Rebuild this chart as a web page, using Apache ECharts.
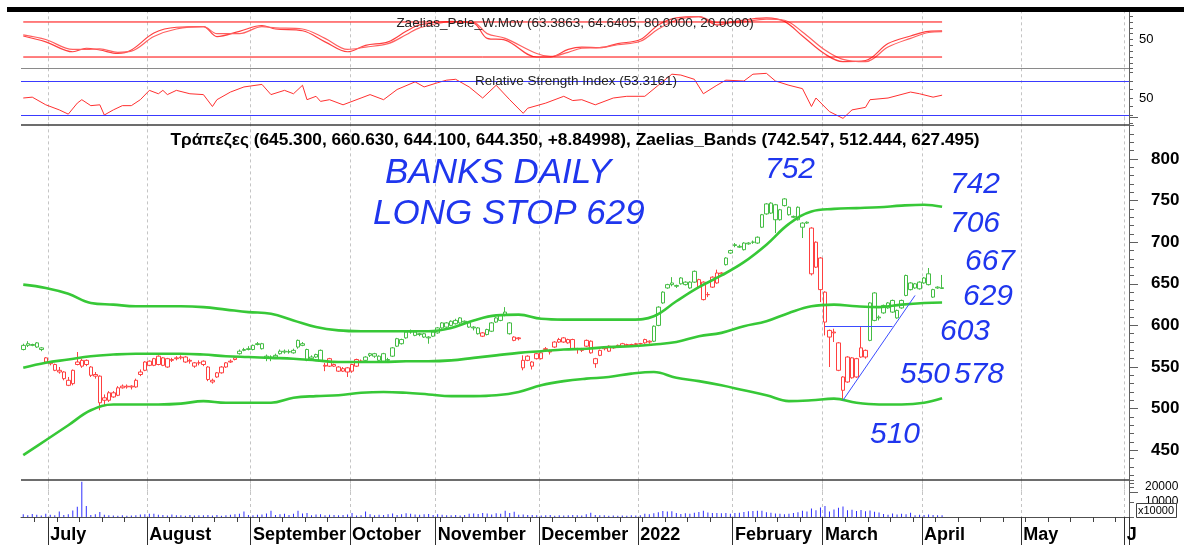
<!DOCTYPE html>
<html>
<head>
<meta charset="utf-8">
<script src="https://cdn.jsdelivr.net/npm/echarts@6/dist/echarts.min.js"></script>
<style>
  html, body { margin: 0; padding: 0; background: #fff; }
  #chart { width: 1184px; height: 560px; }
</style>
</head>
<body>
<div id="chart"></div>
<script>
// daily OHLC (one slot per session, last = 7 Apr 2022)
const open = [571,576,577,579,573,561,556,553,546,544,534,530,553,551,558,550,541,539,510,510,
  519,516,525,527,526,526,541,546,557,552,553,561,550,559,560,561,562,557,551,555,
  557,550,534,538,543,550,556,559,566,570,571,571,577,578,563,561,562,566,569,568,
  567,574,578,571,560,562,570,552,551,553,550,548,549,545,551,557,558,564,566,558,
  566,558,563,575,578,585,592,592,589,590,586,587,591,597,598,600,602,603,605,603,
  598,597,591,589,593,604,606,612,603,586,585,558,558,551,560,560,571,569,574,583,
  580,579,583,572,571,575,581,554,564,572,569,573,575,575,577,576,577,578,579,580,
  581,600,627,645,649,648,650,652,645,652,646,652,637,646,651,662,673,687,696,694,
  699,698,700,699,718,734,735,745,739,752,742,731,742,718,723,717,670,681,640,594,
  592,579,538,532,561,538,562,562,582,639,610,615,621,630,618,621,636,651,650,644,
  651,662,643,645,645.3];
const high = [578,581,578,580,574,562,557,554,550,545,538,547,568,560,559,551,544,540,517,521,
  521,527,529,529,528,536,547,557,558,561,564,562,561,561,563,564,563,560,556,558,
  558,551,536,544,551,556,559,562,571,573,575,577,580,579,565,564,566,571,571,571,
  572,583,580,572,564,566,571,555,561,554,551,550,550,554,560,559,563,567,567,564,
  567,561,574,585,584,593,595,593,591,591,587,593,598,604,604,606,608,610,606,604,
  599,598,592,596,604,610,613,622,604,587,586,564,564,557,567,568,574,571,581,585,
  586,584,584,573,573,583,582,561,571,574,576,575,577,579,578,578,579,579,584,582,
  600,623,641,650,658,649,658,653,653,666,656,653,640,659,667,664,682,691,699,697,
  700,700,702,707,734,747,748,746,740,753,743,732,743,724,725,718,701,682,641,595,
  596,580,539,563,562,561,598,571,628,640,612,625,628,631,619,631,661,652,651,653,
  658,669,644,647,660.63];
const low = [570,574,575,573,569,555,552,545,542,534,527,528,552,549,551,538,536,498,503,508,
  513,515,524,524,523,525,539,545,551,551,552,551,549,556,558,559,555,554,549,552,
  551,533,530,537,542,549,555,558,565,569,570,570,576,571,557,557,560,565,566,566,
  566,572,575,557,558,561,556,545,550,550,544,544,538,543,550,555,557,562,561,557,
  556,556,562,574,577,584,590,587,587,585,578,586,590,596,597,599,601,602,603,597,
  594,589,586,588,592,603,605,611,589,581,582,546,557,547,559,559,569,565,573,579,
  579,578,571,566,568,574,566,549,563,570,568,572,574,574,575,575,576,577,578,578,
  580,599,626,644,647,645,649,648,644,651,645,630,634,645,650,660,672,686,694,693,
  690,697,698,698,717,733,734,711,726,743,732,729,726,705,722,660,669,628,588,550,
  580,545,510,531,536,537,561,560,581,605,606,614,620,615,608,620,635,642,644,643,
  650,648,633,644,644.1];
const close = [576,578,576,574,571,556,554,546,544,536,528,546,556,558,553,540,539,507,513,519,
  514,525,527,526,527,534,544,556,552,560,563,552,560,558,561,562,556,558,555,555,
  553,535,532,543,550,555,557,561,569,571,572,576,578,572,561,562,564,569,568,568.5,
  570,582,576,558,562,565,557,551,560,551,545,545,544,553,559,557,562,566,563,563,
  557,559,573,584,583,592,593,588,590,586,585,592,597,603,603,605,606,609,604,598,
  597,590,587,595,603,609,612,616,590,582,584,549,563,556,566,567,572,568,580,580,
  585,583,572,571,570,582,567,560,570,573,575,574,576,578,576,577,578,578,583,581,
  599,622,640,649,651,647,657,649,652,665,655,631,637,658,663,663,681,690,697,695,
  691,699,700,706,733,746,747,727,727,744,733,730,727,723,724,662,700,643,604,586,
  591,546,522,562,537,560,573,570,627,606,609,624,627,616,609,630,660,643,645,652,
  657,649,634,646,644.35];
// G = green candle, R = red candle (colour used by the source chart)
const tone = ('GGGGG' +
  'RRRRRRRRRRRRRRRRRRRRRRRRRRRRRRRRRRRRRRRRRRR' +
  'GGGGGGGGGGGGGGGGGGG' + 'RRRRRRRRR' +
  'GGGGGGGGGGGGGGGGGGGGGGGGGG' + 'R' + 'GGGGGG' +
  'RRRRRRRRRRRRRRRRRRRRRRRRRRRRRRR' + 'GGGGGGGGGG' + 'RRRRRR' +
  'GGGGGGGGGGGGGGGGGGG' + 'RRRRRRRRRRRRR' + 'GGGGGGGGGGGGGGGGG').split('');

const volume = [1800,1200,2000,1500,1000,2200,1500,1200,3600,1400,1800,4400,6900,23500,7300,1400,1800,3300,1500,1200,
  1000,900,1100,800,1000,1200,1600,1900,2200,2100,1500,1300,1000,1600,1200,1100,900,1300,1000,1100,
  1200,1400,1000,1300,900,1200,1500,1800,2200,3600,1300,1100,1500,1700,2400,4200,1400,1800,2100,1300,
  2200,4200,2400,2600,1200,1700,1900,1100,1500,1300,1200,1400,1600,2600,1000,1200,3600,1900,1200,1500,
  1300,1800,2300,1400,1900,2500,2100,1600,1500,1900,2000,1300,1800,1500,1100,1200,1400,1000,1300,2200,
  2400,2000,2600,2300,1700,2500,2100,4200,2700,3500,1500,1700,1400,1300,1100,1000,1200,1300,900,1100,
  1000,1200,1400,1100,1000,1800,2900,1300,1200,1100,900,1000,800,1000,900,1100,1000,1200,2200,1800,
  2500,3100,4000,3600,3800,2700,2000,2500,2200,2800,3300,4200,3000,2600,2700,2500,2700,2200,2600,2900,
  3300,3800,4000,4200,4100,3200,2800,2300,2100,1900,2200,2600,3100,4200,3700,5600,4500,6300,7300,3600,
  5000,6200,7000,4500,4800,4000,4600,3800,4400,3500,3000,2000,1500,2400,1600,2100,1800,2900,1200,1500,
  1300,1700,1400,1100,1200];

// Zaelias bands, sampled every 5 sessions
const bandIdx = [0,5,10,15,20,25,30,35,40,45,50,55,60,65,70,75,80,85,90,95,100,105,110,115,120,125,130,135,140,145,150,155,160,165,170,175,180,185,190,195,200,204];
const upperBand = [649,645,638,627,625,623,623,623,622,619,616,614,606,598,594,593,593,593,593,597,606,612,613,608,607,607,607,607,611,629,646,660,676,697,722,737,740,741,742,744,745,742.547];
const midBand = [549,555,559,563,565,566,566,566,565,563,562,561,560,558,556,556,556,557,557,558,561,564,567,569,571,572,574,575,577,580,587,591,599,605,615,623,625,623,622,625,627,627.495];
const lowerBand = [444,462,480,498,505,505,505,506,509,507,507,507,513,515,516,519,520,519,517,515,515,516,520,528,533,536,538,542,544,537,533,528,522,516,509,510,512,507,505,505,507,512.444];

// Zaelias_Pele_W.Mov oscillator (two lines)
const oscIdx = [0,5,11,14,17,21,24,29,34,40,43,48,53,56,62,67,72,76,81,85,88,95,100,103,107,114,117,121,124,128,132,137,141,145,150,154,158,165,169,173,178,182,187,192,197,201,204];
const oscFast = [56,46,29,35,32,26,32,61,71,72,55,64,74,68,65,46,29,40,46,64,75,81,78,52,49,20,20,33,37,36,43,50,75,87,89,75,81,87,81,56,25,12,14,43,56,64,64.6405];
const oscSlow = [58,50,33,33,34,28,30,55,68,72,60,60,72,70,68,52,33,37,43,58,70,80,79,60,52,26,21,28,35,36,41,47,68,83,89,79,79,85,83,63,32,16,12,37,52,62,63.3863];
const oscLevels = [80, 20];

// Relative Strength Index
const rsiIdx = [0,2,5,8,10,12,13,15,17,18,20,22,24,26,28,30,31,32,34,37,40,42,43,46,49,53,55,58,60,62,63,65,66,68,71,75,77,80,83,87,89,92,94,96,99,102,105,108,111,112,116,120,122,124,127,131,134,138,141,144,146,149,151,154,156,160,162,165,167,170,173,175,176,179,182,184,187,188,192,197,199,202,204];
const rsi = [50,51,42,36,31,44,48,41,42,30,36,41,41,48,59,55,59,54,59,55,54,40,48,57,63,66,54,59,55,65,48,52,46,48,42,50,54,48,60,69,63,68,71,72,63,50,65,48,32,38,44,52,47,48,42,50,52,52,65,78,77,72,55,65,71,70,78,79,70,65,61,40,50,34,26,36,39,48,50,57,55,51,53.3161];
const rsiLevels = [70, 30];

// hand drawn support / trend lines: [startIdx, startVal, endIdx, endVal]
const supportLine = [178, 599, 193, 599];
const trendLine = [182, 510, 198, 636];

// x axis: session slots, month boundaries as drawn in the source
const slotCount = 246;
const monthTickIdx = [6, 28, 51, 73, 92, 115, 137, 158, 178, 200, 222, 245];
const monthTickLabel = ['July', 'August', 'September', 'October', 'November', 'December', '2022', 'February', 'March', 'April', 'May', 'J'];

const slots = Array.from({length: slotCount}, (_, i) => String(i));
const isMonthStart = i => monthTickIdx.indexOf(i) >= 0;
const isWeekTick = i => i % 5 === 3;

const pairs = (idx, vals) => idx.map((k, i) => [k, vals[i]]);
const lastIdx = open.length - 1;

const greenStyle = {color: '#ffffff', color0: '#008c00', borderColor: '#45bd45', borderColor0: '#008c00', borderWidth: 1};
const redStyle = {color: '#ffffff', color0: '#ff0000', borderColor: '#ff4040', borderColor0: '#ff0000', borderWidth: 1};
const candleData = open.map((o, i) => ({
  value: [o, close[i], low[i], high[i]],
  itemStyle: tone[i] === 'G' ? greenStyle : redStyle
}));

const FONT = 'Liberation Sans, Arial, sans-serif';
const AXIS_COLOR = '#606060';
const GRID_L = 21, GRID_R = 55;

function xAxisFor(gridIndex, extra) {
  return Object.assign({
    type: 'category', gridIndex, data: slots, boundaryGap: true,
    axisLine: {show: false}, axisTick: {show: false}, axisLabel: {show: false},
    splitLine: {show: true, interval: (i) => isMonthStart(i), lineStyle: {color: '#c4c4c4', type: [3, 3], width: 1}}
  }, extra || {});
}

const option = {
  animation: false,
  backgroundColor: '#ffffff',
  grid: [
    {left: GRID_L, right: GRID_R, top: 10.3, height: 58.4},
    {left: GRID_L, right: GRID_R, top: 68.25, height: 55.25},
    {left: GRID_L, right: GRID_R, top: 117.4, height: 374.4},
    {left: GRID_L, right: GRID_R, top: 480, height: 37},
    {left: GRID_L, right: GRID_R, top: 480, height: 37}
  ],
  xAxis: [
    xAxisFor(0),
    xAxisFor(1),
    xAxisFor(2),
    xAxisFor(3, {
      axisLine: {show: true, lineStyle: {color: '#505050', width: 1}},
      axisTick: {show: true, interval: (i) => isWeekTick(i), length: 5, lineStyle: {color: '#404040'}}
    }),
    xAxisFor(4, {
      splitLine: {show: false},
      axisTick: {show: true, interval: (i) => isMonthStart(i), length: 28, lineStyle: {color: '#303030', width: 1}},
      axisLabel: {
        show: true, interval: (i) => isMonthStart(i), align: 'left', margin: 9,
        formatter: (v) => monthTickLabel[monthTickIdx.indexOf(+v)],
        fontFamily: FONT, fontWeight: 'bold', fontSize: 18, color: '#000'
      }
    })
  ],
  yAxis: [
    {type: 'value', gridIndex: 0, position: 'right', min: 0, max: 100, interval: 10,
      axisLine: {show: true, lineStyle: {color: AXIS_COLOR}},
      axisTick: {show: true, length: 4, lineStyle: {color: AXIS_COLOR}},
      axisLabel: {formatter: v => v === 50 ? '50' : '', margin: 10, fontFamily: FONT, fontSize: 13, color: '#000'},
      splitLine: {show: false}},
    {type: 'value', gridIndex: 1, position: 'right', min: 20, max: 85, interval: 10,
      axisLine: {show: true, lineStyle: {color: AXIS_COLOR}},
      axisTick: {show: true, length: 4, lineStyle: {color: AXIS_COLOR}},
      axisLabel: {formatter: v => v === 50 ? '50' : '', margin: 10, fontFamily: FONT, fontSize: 13, color: '#000'},
      splitLine: {show: false}},
    {type: 'value', gridIndex: 2, position: 'right', min: 400, max: 850, interval: 50,
      axisLine: {show: true, lineStyle: {color: AXIS_COLOR}},
      axisTick: {show: true, length: 9, lineStyle: {color: AXIS_COLOR}},
      minorTick: {show: true, splitNumber: 5, length: 5, lineStyle: {color: AXIS_COLOR}},
      axisLabel: {formatter: v => (v >= 450 && v <= 800) ? String(v) : '', margin: 22,
        fontFamily: FONT, fontWeight: 'bold', fontSize: 17, color: '#000'},
      splitLine: {show: false}},
    {type: 'value', gridIndex: 3, position: 'right', min: 0, max: 24667, interval: 10000,
      axisLine: {show: true, lineStyle: {color: AXIS_COLOR}},
      axisTick: {show: true, length: 5, lineStyle: {color: AXIS_COLOR}},
      axisLabel: {formatter: v => (v === 10000 || v === 20000) ? String(v) : '', margin: 16,
        fontFamily: FONT, fontSize: 12, color: '#000'},
      splitLine: {show: false}},
    {type: 'value', gridIndex: 4, show: false}
  ],
  series: [
    {type: 'line', xAxisIndex: 0, yAxisIndex: 0, data: pairs(oscIdx, oscFast), smooth: 0.35,
      symbol: 'none', lineStyle: {color: '#ff4040', width: 1.2}},
    {type: 'line', xAxisIndex: 0, yAxisIndex: 0, data: pairs(oscIdx, oscSlow), smooth: 0.35,
      symbol: 'none', lineStyle: {color: '#ff6060', width: 1.2}},
    ...oscLevels.map(lv => ({type: 'line', xAxisIndex: 0, yAxisIndex: 0, data: [[0, lv], [lastIdx, lv]],
      symbol: 'none', lineStyle: {color: '#ff0000', width: 1}})),
    {type: 'line', xAxisIndex: 1, yAxisIndex: 1, data: pairs(rsiIdx, rsi),
      symbol: 'none', lineStyle: {color: '#ff3030', width: 1},
      markLine: {silent: true, symbol: ['none', 'none'], label: {show: false},
        lineStyle: {color: '#3a3aff', type: 'solid', width: 1},
        data: rsiLevels.map(lv => ({yAxis: lv}))}},
    {type: 'line', xAxisIndex: 2, yAxisIndex: 2, data: pairs(bandIdx, upperBand), smooth: 0.4,
      symbol: 'none', lineStyle: {color: '#37c837', width: 2.6}},
    {type: 'line', xAxisIndex: 2, yAxisIndex: 2, data: pairs(bandIdx, midBand), smooth: 0.4,
      symbol: 'none', lineStyle: {color: '#37c837', width: 2.6}},
    {type: 'line', xAxisIndex: 2, yAxisIndex: 2, data: pairs(bandIdx, lowerBand), smooth: 0.4,
      symbol: 'none', lineStyle: {color: '#37c837', width: 2.6}},
    {type: 'candlestick', xAxisIndex: 2, yAxisIndex: 2, data: candleData, barWidth: 4,
      markLine: {silent: true, symbol: ['none', 'none'], label: {show: false},
        lineStyle: {color: '#3b4cff', type: 'solid', width: 1},
        data: [
          [{coord: [supportLine[0], supportLine[1]]}, {coord: [supportLine[2], supportLine[3]]}],
          [{coord: [trendLine[0], trendLine[1]]}, {coord: [trendLine[2], trendLine[3]]}]
        ]}},
    {type: 'bar', xAxisIndex: 3, yAxisIndex: 3, data: volume, barWidth: 1,
      itemStyle: {color: '#3030ff'}}
  ],
  graphic: [
    {type: 'rect', shape: {x: 7, y: 7, width: 1177, height: 5}, style: {fill: '#000'}, z: 100},
    {type: 'line', shape: {x1: GRID_L, y1: 68.5, x2: 1129, y2: 68.5}, style: {stroke: '#8a8a8a', lineWidth: 1}, z: 100},
    {type: 'line', shape: {x1: GRID_L, y1: 125, x2: 1129, y2: 125}, style: {stroke: '#3c3c3c', lineWidth: 1.5}, z: 100},
    {type: 'line', shape: {x1: GRID_L, y1: 480, x2: 1129, y2: 480}, style: {stroke: '#3c3c3c', lineWidth: 1.5}, z: 100},
    {type: 'text', x: 575, y: 23, z: 100, style: {text: 'Zaelias_Pele_W.Mov (63.3863, 64.6405, 80.0000, 20.0000)',
      font: '13.5px ' + FONT, fill: '#222', textAlign: 'center', textVerticalAlign: 'middle', align: 'center', verticalAlign: 'middle'}},
    {type: 'text', x: 576, y: 81, z: 100, style: {text: 'Relative Strength Index (53.3161)',
      font: '13.5px ' + FONT, fill: '#222', textAlign: 'center', textVerticalAlign: 'middle', align: 'center', verticalAlign: 'middle'}},
    {type: 'text', x: 575, y: 140, z: 100, style: {text: 'Τράπεζες (645.300, 660.630, 644.100, 644.350, +8.84998), Zaelias_Bands (742.547, 512.444, 627.495)',
      font: 'bold 17.3px ' + FONT, fill: '#000', textAlign: 'center', textVerticalAlign: 'middle', align: 'center', verticalAlign: 'middle'}},
    {type: 'rect', shape: {x: 1136.5, y: 503.5, width: 40, height: 14}, style: {fill: '#fff', stroke: '#404040', lineWidth: 1}, z: 100},
    {type: 'text', x: 1138, y: 511, z: 101, style: {text: 'x10000', font: '11px ' + FONT, fill: '#000',
      textVerticalAlign: 'middle', verticalAlign: 'middle'}},
    ...[
      ['BANKS DAILY', 385, 173, 35], ['LONG STOP 629', 373, 214, 35],
      ['752', 765, 170, 30], ['742', 950, 185, 30], ['706', 950, 224, 30], ['667', 965, 262, 30],
      ['629', 963, 297, 30], ['603', 940, 332, 30], ['550', 900, 375, 30], ['578', 954, 375, 30],
      ['510', 870, 435, 30]
    ].map(([t, x, y, fs]) => ({type: 'text', x, y, z: 100, style: {text: t,
      font: 'italic ' + fs + 'px ' + FONT, fill: '#1f36ee', textVerticalAlign: 'middle', verticalAlign: 'middle'}}))
  ]
};

const chart = echarts.init(document.getElementById('chart'));
chart.setOption(option);
</script>
</body>
</html>
